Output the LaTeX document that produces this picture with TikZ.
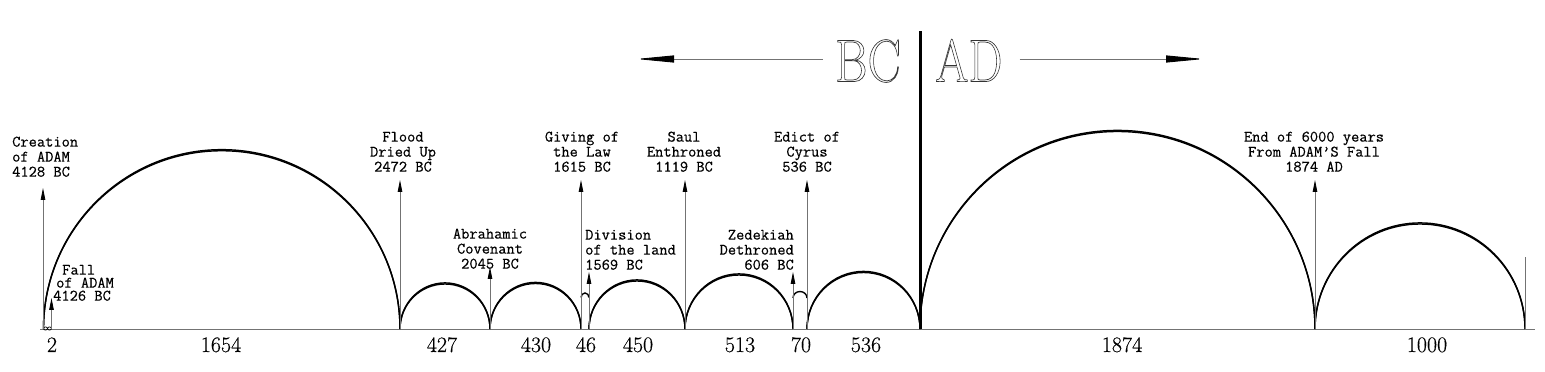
\documentclass[tikz,border=0pt]{standalone}
\usepackage{fontspec}
\usepackage{graphicx}
\usetikzlibrary{arrows.meta}
\newfontfamily\lblfont{Latin Modern Mono}[FakeBold=0.45]
\newfontfamily\numfont{Latin Modern Roman}[FakeBold=0.3]
\newcommand\outlinetext[1]{\special{pdf:literal direct 1 Tr 0.7 w}#1\special{pdf:literal direct 0 Tr}}
\newcommand\semiarc[2]{%
  \pgfmathsetmacro\rr{(#2-#1)/2}%
  \draw[arcline] (#1,43) arc[start angle=180,end angle=0,x radius=\rr,y radius=\rr];%
  \draw[arcline] (#1,43) arc[start angle=180,end angle=0,x radius=\rr,y radius=\rr+1.1];%
}
\begin{document}
\begin{tikzpicture}[x=1pt,y=1pt,
  evarrow/.style={draw=black!55,line width=0.8pt,-{Triangle[length=12pt,width=4.5pt,color=black]}},
  bigarrow/.style={draw=black!55,line width=0.9pt,-{Triangle[length=38pt,width=7pt,color=black]}},
  arcline/.style={draw=black,line width=1.4pt},
  side/.style={draw=black,line width=0.8pt},
  lbl/.style={font=\fontsize{16}{15}\selectfont\lblfont,inner sep=0pt},
  num/.style={font=\fontsize{22}{24}\selectfont\numfont,inner sep=0pt,anchor=base},
  era/.style={font=\fontsize{60}{60}\selectfont,inner sep=0pt,text=black!80},
]
\useasboundingbox (0,0) rectangle (1545,372);

% baseline
\coordinate (L0) at (40,43);
\coordinate (L1) at (1535,43);
\draw[draw=black!55,line width=0.9pt] (L0) -- (L1);

% arcs
\semiarc{43.5}{400}
\semiarc{400}{490}
\semiarc{490}{581}
\semiarc{589}{685}
\semiarc{685}{793}
\semiarc{807}{920}
\semiarc{920}{1315}
\semiarc{1315}{1525}

% small arcs
\draw[line width=0.7pt] (45.5,43.5) ellipse[x radius=2,y radius=1.6];
\draw[line width=0.7pt] (49.5,43.5) ellipse[x radius=2,y radius=1.6];
\draw[side] (581,43) -- (581,74.5);
\draw[side] (589,43) -- (589,74.5);
\draw[arcline] (581,74.5) arc[start angle=180,end angle=0,x radius=4,y radius=4.5];
\draw[side] (793,43) -- (793,74);
\draw[side] (807,43) -- (807,74);
\draw[arcline] (793,74) arc[start angle=180,end angle=0,x radius=7,y radius=6.5];

% event base points and tips
\coordinate (bCre) at (43,43);   \coordinate (tCre) at (43,184);
\coordinate (bFal) at (51.5,43); \coordinate (tFal) at (51.5,74);
\coordinate (bFlo) at (400,43);  \coordinate (tFlo) at (400,192);
\coordinate (bAbr) at (490,43);  \coordinate (tAbr) at (490,105);
\coordinate (bGiv) at (581,43);  \coordinate (tGiv) at (581,192);
\coordinate (bDiv) at (589,43);  \coordinate (tDiv) at (589,100);
\coordinate (bSau) at (685,43);  \coordinate (tSau) at (685,192);
\coordinate (bZed) at (793,43);  \coordinate (tZed) at (793,100);
\coordinate (bEdi) at (807,43);  \coordinate (tEdi) at (807,192);
\coordinate (bEnd) at (1315,43); \coordinate (tEnd) at (1315,192);
\coordinate (bMil) at (1525,43); \coordinate (tMil) at (1525,115);

\draw[evarrow] (bCre) -- (tCre);
\draw[evarrow] (bFal) -- (tFal);
\draw[evarrow] (bFlo) -- (tFlo);
\draw[evarrow] (bAbr) -- (tAbr);
\draw[evarrow] (bGiv) -- (tGiv);
\draw[evarrow] (bDiv) -- (tDiv);
\draw[evarrow] (bSau) -- (tSau);
\draw[evarrow] (bZed) -- (tZed);
\draw[evarrow] (bEdi) -- (tEdi);
\draw[evarrow] (bEnd) -- (tEnd);
\draw[draw=black!55,line width=0.8pt] (bMil) -- (tMil);

% BC | AD divider
\coordinate (dv0) at (920,43);
\coordinate (dv1) at (920,341);
\draw[line width=3pt] (dv0) -- (dv1);

% labels
\node[lbl,anchor=south west,align=left] (cre) at (12,195) {Creation\\of ADAM\\4128 BC};
\node[lbl,anchor=south west,align=left,font=\fontsize{16}{13}\selectfont\lblfont] (fal) at (53,71) {\hspace*{9pt}Fall\\\hspace*{3pt}of ADAM\\4126 BC};
\node[lbl,anchor=south,align=center] (flo) at (403,200) {Flood\\Dried Up\\2472 BC};
\node[lbl,anchor=south,align=center] (abr) at (490,103) {Abrahamic\\Covenant\\2045 BC};
\node[lbl,anchor=south,align=center] (giv) at (582,200) {Giving of\\the Law\\1615 BC};
\node[lbl,anchor=south west,align=left] (div) at (585,102) {Division\\of the land\\1569 BC};
\node[lbl,anchor=south,align=center] (sau) at (684,200) {Saul\\Enthroned\\1119 BC};
\node[lbl,anchor=south east,align=right] (zed) at (794,102) {Zedekiah\\Dethroned\\606 BC};
\node[lbl,anchor=south,align=center] (edi) at (807,200) {Edict of\\Cyrus\\536 BC};
\node[lbl,anchor=south,align=center] (end) at (1314,200) {End of 6000 years\\From ADAM’S Fall\\1874 AD};

% period lengths
\node[num] (n1) at (52,20) {2};
\node[num] (n2) at (221,20) {1654};
\node[num] (n3) at (442,20) {427};
\node[num] (n4) at (536,20) {430};
\node[num] (n5) at (586,20) {46};
\node[num] (n6) at (638,20) {450};
\node[num] (n7) at (740,20) {513};
\node[num] (n8) at (801,20) {70};
\node[num] (n9) at (866,20) {536};
\node[num] (n10) at (1122,20) {1874};
\node[num] (n11) at (1427,20) {1000};

% BC AD
\node[era,anchor=base east] (bc) at (901,290.5) {\scalebox{0.83}[1]{\outlinetext{BC}}};
\node[era,anchor=base west] (ad) at (935,290.5) {\scalebox{0.8}[1]{\outlinetext{AD}}};
\coordinate (lt) at (636,313);
\coordinate (rt) at (1204,313);
\draw[bigarrow] (bc.west |- lt) ++(-12,0) -- (lt);
\draw[bigarrow] (ad.east |- rt) ++(17,0) -- (rt);
\end{tikzpicture}
\end{document}
